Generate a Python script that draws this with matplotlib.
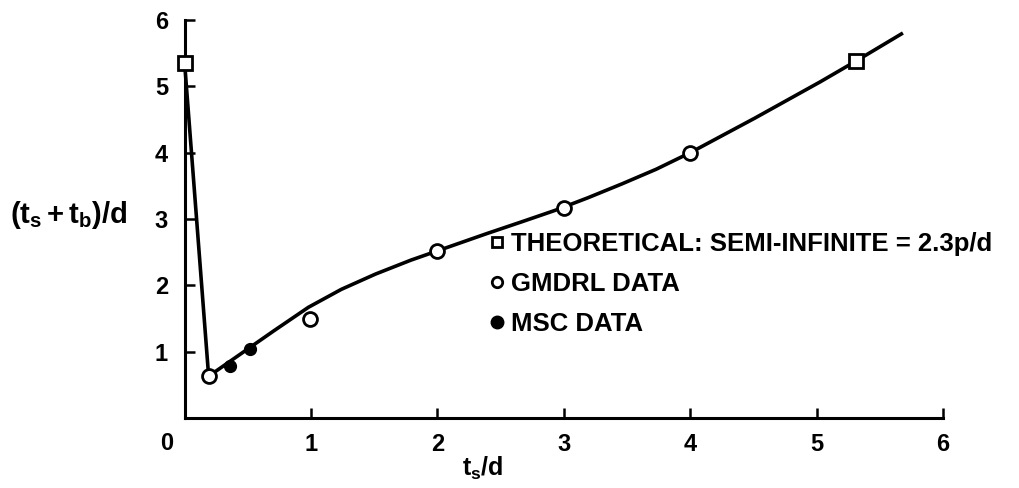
import matplotlib
matplotlib.use('agg')
import matplotlib.pyplot as plt
from matplotlib.lines import Line2D

# values
theory_x = [0.0, 5.31]
theory_y = [5.35, 5.38]

gmdrl_x = [0.19, 0.99, 2.0, 3.0, 4.0]
gmdrl_y = [0.63, 1.49, 2.52, 3.16, 4.0]

msc_x = [0.36, 0.52]
msc_y = [0.78, 1.04]

curve_x = [0.0, 0.19, 0.71, 0.98, 1.24, 1.51, 1.79, 2.0, 2.39, 2.67,
           2.93, 3.19, 3.46, 3.73, 4.0, 4.51, 5.03, 5.31, 5.67]
curve_y = [5.35, 0.63, 1.32, 1.67, 1.94, 2.17, 2.38, 2.52, 2.78, 2.96,
           3.13, 3.32, 3.53, 3.75, 4.0, 4.52, 5.07, 5.38, 5.79]

tick_vals = [1, 2, 3, 4, 5, 6]
legend_labels = ['THEORETICAL: SEMI-INFINITE = 2.3p/d', 'GMDRL DATA', 'MSC DATA']

plt.rcParams['font.family'] = ['Liberation Sans', 'DejaVu Sans']
plt.rcParams['font.weight'] = 'bold'
plt.rcParams['mathtext.fontset'] = 'custom'
plt.rcParams['mathtext.rm'] = 'Liberation Sans:bold'
plt.rcParams['mathtext.it'] = 'Liberation Sans:bold'
plt.rcParams['mathtext.bf'] = 'Liberation Sans:bold'

fig = plt.figure(figsize=(10.2, 4.88), dpi=100)
ax = fig.add_axes([0.181, 0.1434, 0.7436, 0.8156])

ax.plot(curve_x, curve_y, color='black', lw=2.6, clip_on=False, zorder=2,
        solid_joinstyle='round')
ax.plot(theory_x, theory_y, ls='none', marker='s', ms=10, mfc='white', mec='black',
        mew=2, clip_on=False, zorder=3)
ax.plot(gmdrl_x, gmdrl_y, ls='none', marker='o', ms=10, mfc='white', mec='black',
        mew=2, clip_on=False, zorder=3)
ax.plot(msc_x, msc_y, ls='none', marker='o', ms=8.5, color='black', clip_on=False,
        zorder=3)

ax.set_xlim(0, 6)
ax.set_ylim(0, 6)
for s in ['top', 'right']:
    ax.spines[s].set_visible(False)
for s in ['left', 'bottom']:
    ax.spines[s].set_linewidth(2.2)

ax.set_xticks(tick_vals)
ax.set_yticks(tick_vals)
ax.set_xticklabels([str(v) for v in tick_vals])
ax.set_yticklabels([str(v) for v in tick_vals])
ax.tick_params(axis='both', direction='in', length=7, width=1.8, labelsize=17)
ax.tick_params(axis='x', pad=11)
ax.tick_params(axis='y', pad=12)
ax.text(-0.14, -0.38, '0', fontsize=17, fontweight='bold', ha='center', va='center',
        clip_on=False)

fig.text(10 / 1020, 1 - 215 / 488, r'$(t_s+t_b)/d$', fontsize=21,
         ha='left', va='center')
fig.text(483 / 1020, 1 - 468 / 488, r'$t_s/d$', fontsize=18,
         ha='center', va='center')

handles = [
    Line2D([], [], ls='none', marker='s', ms=7.5, mfc='white', mec='black', mew=2),
    Line2D([], [], ls='none', marker='o', ms=7.5, mfc='white', mec='black', mew=2),
    Line2D([], [], ls='none', marker='o', ms=9, color='black'),
]
ax.legend(handles, legend_labels, loc='upper left', bbox_to_anchor=(0.402, 0.467),
          frameon=False, borderpad=0, borderaxespad=0, handlelength=0.6,
          handletextpad=0.25, labelspacing=0.62,
          prop={'family': 'Liberation Sans', 'weight': 'bold', 'size': 18.5})

fig.savefig('out.png', dpi=100)
